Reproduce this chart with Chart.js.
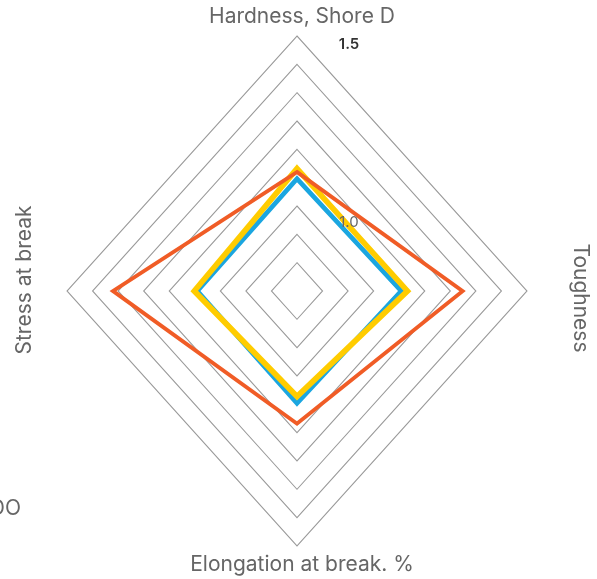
<!DOCTYPE html>
<html>
<head>
<meta charset="utf-8">
<script src="https://cdn.jsdelivr.net/npm/chart.js@4/dist/chart.umd.min.js"></script>
<style>
  html, body { margin: 0; padding: 0; background: #fff; }
  #wrap { width: 597px; height: 579px; position: relative; }
</style>
</head>
<body>
<div id="wrap"><canvas id="RadarProps"></canvas></div>
<script>
// axes, clockwise from the top
const properties = ['Hardness, Shore D', 'Toughness', 'Elongation at break. %', 'Stress at break'];

// relative values
const orange_values = [1.10, 1.29, 1.14, 1.35];
const yellow_values = [1.11, 1.11, 1.06, 1.085];
const blue_values   = [1.08, 1.09, 1.08, 1.075];

const scale_min = 0.75;
const scale_max = 1.5;
const labelled_ticks = [1.5, 1.0];

// the original grid is a diamond a little narrower than it is tall
const x_squeeze = 230 / 255;
const font_family = "Inter, 'Open Sans', sans-serif";

const squeezePlugin = {
    id: 'squeeze',
    beforeDraw(chart) {
        const r = chart.scales.r;
        const ctx = chart.ctx;
        ctx.save();
        ctx.translate(r.xCenter, 0);
        ctx.scale(x_squeeze, 1);
        ctx.translate(-r.xCenter, 0);
    },
    afterDatasetsDraw(chart) {
        chart.ctx.restore();
    },
    afterDraw(chart) {
        const r = chart.scales.r;
        const ctx = chart.ctx;
        const cx = r.xCenter, cy = r.yCenter;
        const R = r.drawingArea;
        ctx.save();
        ctx.fillStyle = '#666';
        ctx.font = '400 21px ' + font_family;
        ctx.textAlign = 'center';
        ctx.textBaseline = 'alphabetic';
        // top and bottom
        ctx.fillText(properties[0], cx + 5, cy - R - 13);
        ctx.fillText(properties[2], cx + 5, cy + R + 25);
        // right, reads downwards
        ctx.save();
        ctx.translate(cx + R * x_squeeze + 47, cy + 7);
        ctx.rotate(Math.PI / 2);
        ctx.fillText(properties[1], 0, 0);
        ctx.restore();
        // left, reads upwards
        ctx.save();
        ctx.translate(31, cy - 11);
        ctx.rotate(-Math.PI / 2);
        ctx.fillText(properties[3], 0, 0);
        ctx.restore();
        // cut-off text at the lower left
        ctx.textAlign = 'right';
        ctx.fillText('DO', 21, 515);

        // tick labels
        ctx.textAlign = 'center';
        ctx.textBaseline = 'middle';
        labelled_ticks.forEach((v, i) => {
            const d = r.getDistanceFromCenterForValue(v);
            ctx.font = (i === 0 ? '600 ' : '400 ') + '15px ' + font_family;
            ctx.fillStyle = i === 0 ? '#333' : '#666';
            ctx.fillText(v.toFixed(1), cx + 52, cy - d + (i === 0 ? 8 : 16));
        });
        ctx.restore();
    }
};

const data = {
    labels: properties,
    datasets: [
        {
            label: 'Orange',
            data: orange_values,
            borderColor: 'rgb(240,92,38)',
            borderWidth: 4,
            fill: false,
            pointRadius: 0,
            order: 1
        },
        {
            label: 'Yellow',
            data: yellow_values,
            borderColor: 'rgb(255,204,0)',
            borderWidth: 6,
            fill: false,
            pointRadius: 0,
            order: 2
        },
        {
            label: 'Blue',
            data: blue_values,
            borderColor: 'rgb(27,166,224)',
            borderWidth: 5,
            fill: false,
            pointRadius: 0,
            order: 3
        }
    ]
};

const config = {
    type: 'radar',
    data: data,
    options: {
        responsive: true,
        maintainAspectRatio: false,
        animation: false,
        layout: {
            padding: { top: 36, bottom: 32, left: 0, right: 3 }
        },
        plugins: {
            legend: { display: false },
            tooltip: { enabled: false }
        },
        scales: {
            r: {
                min: scale_min,
                max: scale_max,
                ticks: { count: 10, display: false },
                pointLabels: { display: false },
                angleLines: { display: false },
                grid: { color: '#999', lineWidth: 1.1 }
            }
        }
    },
    plugins: [squeezePlugin]
};

new Chart(document.getElementById('RadarProps'), config);
</script>
</body>
</html>
